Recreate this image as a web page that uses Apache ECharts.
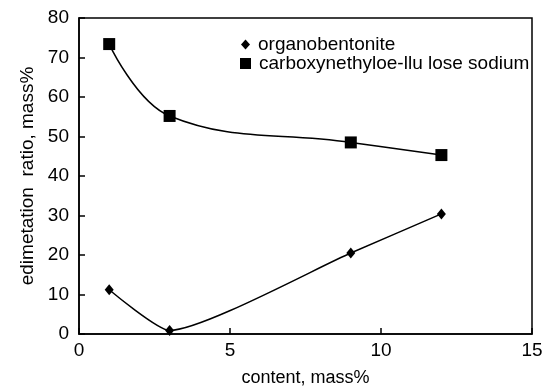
<!DOCTYPE html>
<html><head><meta charset="utf-8">
<script src="https://cdn.jsdelivr.net/npm/echarts@6/dist/echarts.min.js"></script>
<style>html,body{margin:0;padding:0;background:#fff}#c{width:552px;height:392px}</style>
</head><body><div id="c"></div>
<script>
const content = [1, 3, 9, 12];
const organobentonite = [11.2, 0.9, 20.5, 30.4];
const cmcSodium = [73.4, 55.2, 48.5, 45.3];
const xTicks = [0, 5, 10, 15];
const yTicks = [0, 10, 20, 30, 40, 50, 60, 70, 80];
const names = ['organobentonite', 'carboxynethyloe-llu lose sodium'];

const chart = echarts.init(document.getElementById('c'));
const font = 'Liberation Sans, Arial, sans-serif';
const legendText = { fontFamily: font, fontSize: 19, color: '#000', padding: [0, 0, 0, 3] };
chart.setOption({
  animation: false,
  backgroundColor: '#fff',
  grid: { left: 79, right: 20, top: 18, bottom: 54, show: true, borderColor: '#000', borderWidth: 1.5 },
  legend: [
    { left: 236, top: 30, itemWidth: 9, itemHeight: 10, textStyle: legendText,
      data: [{ name: names[0], icon: 'diamond', itemStyle: { color: '#000' } }] },
    { left: 235, top: 49, itemWidth: 11, itemHeight: 11, textStyle: legendText,
      data: [{ name: names[1], icon: 'rect', itemStyle: { color: '#000' } }] }
  ],
  xAxis: {
    type: 'value', min: xTicks[0], max: xTicks[xTicks.length - 1], interval: 5,
    name: 'content, mass%', nameLocation: 'middle', nameGap: 35,
    nameTextStyle: { fontFamily: font, fontSize: 18, color: '#000' },
    axisLine: { lineStyle: { color: '#000', width: 1.5 } },
    axisTick: { inside: true, length: 6, lineStyle: { color: '#000', width: 1.5 } },
    axisLabel: { fontFamily: font, fontSize: 19, color: '#000', margin: 7 },
    splitLine: { show: false }
  },
  yAxis: {
    type: 'value', min: yTicks[0], max: yTicks[yTicks.length - 1], interval: 10,
    name: 'edimetation  ratio, mass%', nameLocation: 'middle', nameGap: 42,
    nameTextStyle: { fontFamily: font, fontSize: 19, color: '#000' },
    axisLine: { lineStyle: { color: '#000', width: 1.5 } },
    axisTick: { inside: true, length: 6, lineStyle: { color: '#000', width: 1.5 } },
    axisLabel: { fontFamily: font, fontSize: 19, color: '#000', margin: 10 },
    splitLine: { show: false }
  },
  series: [
    {
      name: names[0], type: 'line', smooth: 0.18,
      data: content.map((x, i) => [x, organobentonite[i]]),
      symbol: 'diamond', symbolSize: [9, 11],
      itemStyle: { color: '#000' }, lineStyle: { color: '#000', width: 1.5 }
    },
    {
      name: names[1], type: 'line', smooth: 0.4,
      data: content.map((x, i) => [x, cmcSodium[i]]),
      symbol: 'rect', symbolSize: 12,
      itemStyle: { color: '#000' }, lineStyle: { color: '#000', width: 1.5 }
    }
  ]
});
</script>
</body></html>
